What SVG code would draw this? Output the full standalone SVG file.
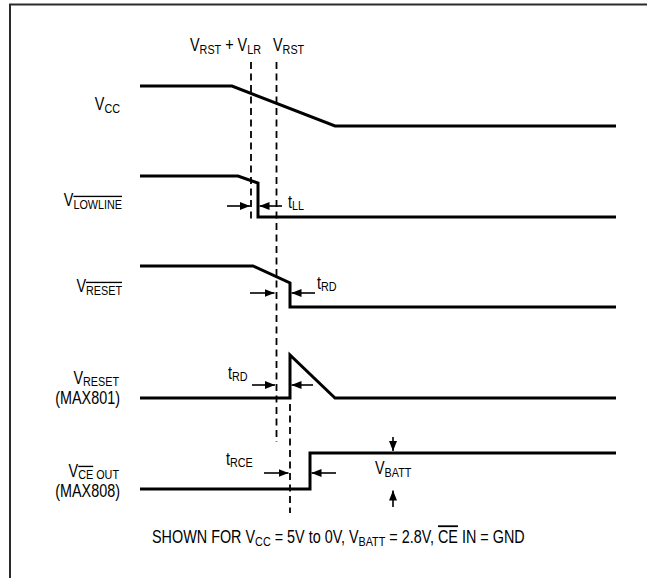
<svg xmlns="http://www.w3.org/2000/svg" width="647" height="578" viewBox="0 0 647 578">
<defs>
<style>
.bg{fill:#ffffff}
.frame{fill:none;stroke:#2b2b2b;stroke-width:2}
.sig{fill:none;stroke:#000;stroke-width:3;stroke-linejoin:miter}
.dash{fill:none;stroke:#000;stroke-width:1.8;stroke-dasharray:7 4.5}
.arr{fill:none;stroke:#000;stroke-width:1.6;marker-end:url(#ah)}
.t{font-family:"Liberation Sans",Arial,sans-serif;font-size:18px;fill:#000}
.s{font-size:13.5px}
.ov{text-decoration:overline}
</style>
<marker id="ah" viewBox="0 0 10 8" refX="10" refY="4" markerWidth="10" markerHeight="8" markerUnits="userSpaceOnUse" orient="auto">
<path d="M0,0 L10,4 L0,8 z" fill="#000"/>
</marker>
</defs>
<rect class="bg" x="0" y="0" width="647" height="578"/>
<path class="frame" d="M10,578 V4.5 H647"/>

<g id="header-labels">
<text class="t" transform="translate(190,51) scale(0.8,1)">V<tspan class="s" dy="3">RST</tspan><tspan dy="-3"> + V</tspan><tspan class="s" dy="3">LR</tspan></text>
<text class="t" transform="translate(273,51) scale(0.8,1)">V<tspan class="s" dy="3">RST</tspan></text>
</g>

<g id="vcc">
<text class="t" text-anchor="end" transform="translate(120,110) scale(0.8,1)">V<tspan class="s" dy="3">CC</tspan></text>
<path class="sig" d="M140,86 H232 L335,126 H616"/>
</g>

<g id="lowline">
<text class="t" text-anchor="end" transform="translate(122,206) scale(0.8,1)">V<tspan class="s ov" dy="3">LOWLINE</tspan></text>
<path class="sig" d="M140,176 H238 L258,183 V217 H616"/>
<text class="t" transform="translate(288,208) scale(0.8,1)">t<tspan class="s" dy="2">LL</tspan></text>
</g>

<g id="reset-bar">
<text class="t" text-anchor="end" transform="translate(122,292) scale(0.8,1)">V<tspan class="s ov" dy="3">RESET</tspan></text>
<path class="sig" d="M140,266 H253 L290,283 V307 H616"/>
<text class="t" transform="translate(317,289) scale(0.8,1)">t<tspan class="s" dy="2">RD</tspan></text>
</g>

<g id="reset-max801">
<text class="t" text-anchor="end" transform="translate(119,384) scale(0.8,1)">V<tspan class="s" dy="2">RESET</tspan></text>
<text class="t" text-anchor="end" transform="translate(120,404) scale(0.8,1)">(MAX801)</text>
<path class="sig" d="M140,398 H290 V355 L335,398 H616"/>
<text class="t" transform="translate(228,379) scale(0.8,1)">t<tspan class="s" dy="2">RD</tspan></text>
</g>

<g id="ce-out-max808">
<text class="t" text-anchor="end" transform="translate(119,477) scale(0.8,1)">V<tspan class="s ov" dy="2">CE</tspan><tspan class="s"> OUT</tspan></text>
<text class="t" text-anchor="end" transform="translate(120,497) scale(0.8,1)">(MAX808)</text>
<path class="sig" d="M140,489 H310 V453 H616"/>
<text class="t" transform="translate(226,465) scale(0.8,1)">t<tspan class="s" dy="2">RCE</tspan></text>
<text class="t" transform="translate(375,474) scale(0.8,1)">V<tspan class="s" dy="3">BATT</tspan></text>
</g>

<g id="connectors">
<line class="dash" x1="251" y1="62" x2="251" y2="220"/>
<line class="dash" x1="276.5" y1="62" x2="276.5" y2="442"/>
<line class="dash" x1="290" y1="404" x2="290" y2="513"/>
<line class="arr" x1="227" y1="206" x2="250" y2="206"/>
<line class="arr" x1="282" y1="206" x2="259.5" y2="206"/>
<line class="arr" x1="250" y1="293" x2="274.5" y2="293"/>
<line class="arr" x1="315" y1="293" x2="291.5" y2="293"/>
<line class="arr" x1="252" y1="385" x2="275" y2="385"/>
<line class="arr" x1="313" y1="385" x2="291.5" y2="385"/>
<line class="arr" x1="264" y1="473" x2="288.5" y2="473"/>
<line class="arr" x1="336" y1="473" x2="311.5" y2="473"/>
<line class="arr" x1="393" y1="437" x2="393" y2="451"/>
<line class="arr" x1="393" y1="507" x2="393" y2="490.5"/>
</g>

<g id="footnote">
<text class="t" transform="translate(152,543) scale(0.8,1)">SHOWN FOR V<tspan class="s" dy="3">CC</tspan><tspan dy="-3"> = 5V to 0V, V</tspan><tspan class="s" dy="3">BATT</tspan><tspan dy="-3"> = 2.8V, </tspan><tspan class="ov">CE</tspan> IN = GND</text>
</g>
</svg>
